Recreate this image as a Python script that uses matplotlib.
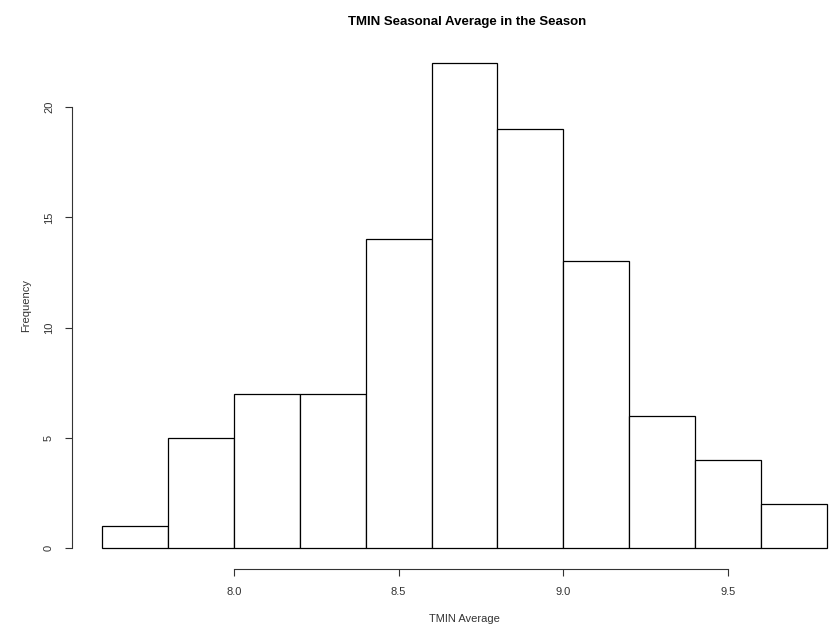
import numpy as np
import matplotlib
matplotlib.use("Agg")
import matplotlib.pyplot as plt

plt.rcParams['font.family'] = ['Liberation Sans', 'DejaVu Sans']

# histogram bins and counts
bin_edges = [7.6, 7.8, 8.0, 8.2, 8.4, 8.6, 8.8, 9.0, 9.2, 9.4, 9.6, 9.8]
counts = [1, 5, 7, 7, 14, 22, 19, 13, 6, 4, 2]
x_ticks = [8.0, 8.5, 9.0, 9.5]
y_ticks = [0, 5, 10, 15, 20]

W, H = 830, 627
fig = plt.figure(figsize=(W / 100, H / 100), dpi=100)
left, right, top, bottom = 102, 827, 63, 548
ax = fig.add_axes([left / W, (H - bottom) / H, (right - left) / W, (bottom - top) / H])

edges = np.array(bin_edges)
bars = ax.bar(edges[:-1], counts, width=np.diff(edges), align='edge',
              facecolor='white', edgecolor='black', linewidth=0.9)
for b in bars:
    b.set_clip_on(False)

ax.set_xlim(edges[0], edges[-1])
ax.set_ylim(0, 22)

for s in ['top', 'right']:
    ax.spines[s].set_visible(False)
ax.spines['left'].set_position(('outward', 30 * 0.72))
ax.spines['bottom'].set_position(('outward', 21 * 0.72))
ax.spines['left'].set_bounds(y_ticks[0], y_ticks[-1])
ax.spines['bottom'].set_bounds(x_ticks[0], x_ticks[-1])
for s in ['left', 'bottom']:
    ax.spines[s].set_color('#333333')
    ax.spines[s].set_linewidth(0.8)

ax.set_xticks(x_ticks)
ax.set_xticklabels([f"{v:.1f}" for v in x_ticks])
ax.set_yticks(y_ticks)
ax.set_yticklabels([str(v) for v in y_ticks], rotation=90, va='center')
ax.tick_params(axis='both', length=5, width=0.8, color='#333333',
               labelsize=8, labelcolor='#333333', pad=8)

ax.set_xlabel('TMIN Average', fontsize=8, color='#333333', labelpad=12)
ax.set_ylabel('Frequency', fontsize=8, color='#333333', labelpad=9)
fig.suptitle('TMIN Seasonal Average in the Season', x=467 / W,
             y=1 - 16 / H, fontsize=9.5, fontweight='bold')

fig.savefig('out.png', dpi=100)
